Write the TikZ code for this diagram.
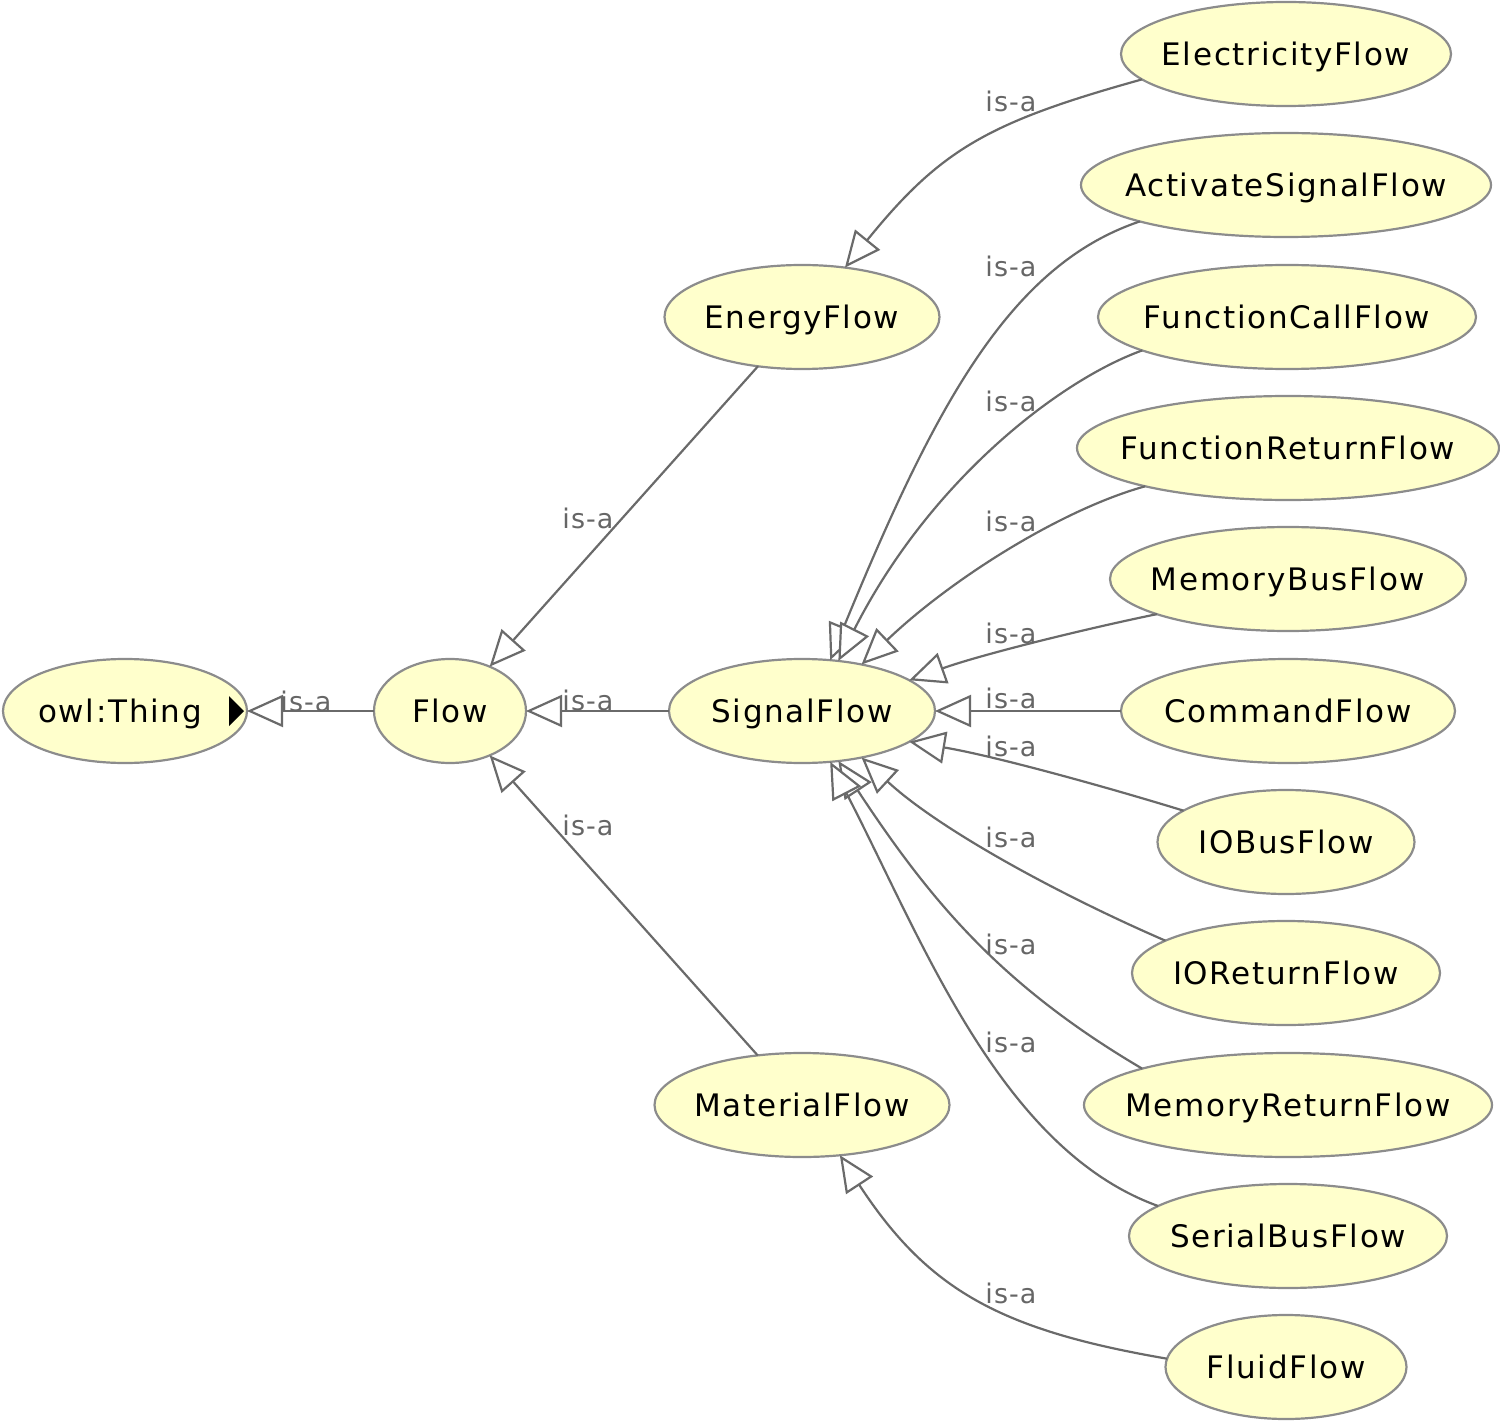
\documentclass[tikz,border=0pt]{standalone}
\usepackage{fontspec}
\setmainfont{DejaVu Sans}
\newfontfamily\nodefont[LetterSpace=5.5]{DejaVu Sans}
\newfontfamily\lblfont[LetterSpace=4]{DejaVu Sans}
\usetikzlibrary{shapes.geometric,arrows.meta}
\definecolor{fillcol}{HTML}{FFFFCC}
\definecolor{bordercol}{HTML}{8C8C8C}
\definecolor{edgecol}{HTML}{6A6A6A}
\definecolor{lblcol}{HTML}{666666}
\newcommand{\zw}[1]{\makebox[0pt]{#1}}
\tikzset{
  cls/.style={ellipse, draw=bordercol, fill=fillcol, line width=2.2pt, inner sep=0pt, outer sep=0pt,
    minimum height=104pt, text height=22.6pt, text depth=0pt, text=black,
    font=\nodefont\fontsize{31}{37}\selectfont},
  isa/.style={draw=edgecol, line width=2.2pt,
    -{Triangle[length=36pt,width=32pt,fill=white,line join=miter]}},
  lbl/.style={text=lblcol, inner sep=0pt, font=\lblfont\fontsize{27}{32}\selectfont}
}
\begin{document}
\begin{tikzpicture}[x=1pt,y=-1pt]
\useasboundingbox (0,0) rectangle (1500,1423);
% nodes
\node[cls, minimum width=244pt] (owl) at (125,711) {\zw{owl:Thing\hspace*{10pt}}};
\node[cls, minimum width=152pt] (flow) at (450,711) {\zw{Flow}};
\node[cls, minimum width=266pt] (signal) at (802,711) {\zw{SignalFlow}};
\node[cls, minimum width=275pt] (energy) at (802,317) {\zw{EnergyFlow}};
\node[cls, minimum width=295pt] (material) at (802,1105) {\zw{MaterialFlow}};
\node[cls, minimum width=330pt] (elec) at (1286,54) {\zw{ElectricityFlow}};
\node[cls, minimum width=410pt] (act) at (1286,185) {\zw{ActivateSignalFlow}};
\node[cls, minimum width=378pt] (fcall) at (1287,317) {\zw{FunctionCallFlow}};
\node[cls, minimum width=422pt] (fret) at (1288,448) {\zw{FunctionReturnFlow}};
\node[cls, minimum width=356pt] (mbus) at (1288,579) {\zw{MemoryBusFlow}};
\node[cls, minimum width=334pt] (cmd) at (1288,711) {\zw{CommandFlow}};
\node[cls, minimum width=257pt] (iobus) at (1286,842) {\zw{IOBusFlow}};
\node[cls, minimum width=308pt] (iores) at (1286,973) {\zw{IOReturnFlow}};
\node[cls, minimum width=408pt] (mret) at (1288,1105) {\zw{MemoryReturnFlow}};
\node[cls, minimum width=318pt] (sbus) at (1288,1236) {\zw{SerialBusFlow}};
\node[cls, minimum width=241pt] (fluid) at (1286,1367) {\zw{FluidFlow}};
% expand marker in owl:Thing
\fill[black] ([xshift=-18pt,yshift=15pt]owl.east) -- ++(0pt,-30pt) -- ([xshift=-3pt]owl.east) -- cycle;
% edges
\draw[isa] (flow) -- (owl);
\draw[isa] (signal) -- (flow);
\draw[isa] (energy) -- (flow);
\draw[isa] (material) -- (flow);
\draw[isa] (elec.190) .. controls (989,122) and (941,149) .. (energy.49);
\draw[isa] (act.194) .. controls (1010,265) and (935,405) .. (signal.61);
\draw[isa] (fcall.193) .. controls (1060,380) and (930,480) .. (signal.54);
\draw[isa] (fret.195) .. controls (1060,510) and (950,580) .. (signal.38);
\draw[isa] (mbus.195) .. controls (1080,630) and (980,655) .. (signal.16);
\draw[isa] (cmd) -- (signal);
\draw[isa] (iobus.163) .. controls (1100,785) and (990,755) .. (signal.344);
\draw[isa] (iores.165) .. controls (1060,895) and (940,830) .. (signal.322);
\draw[isa] (mret.166) .. controls (1000,985) and (930,900) .. (signal.306);
\draw[isa] (sbus.167) .. controls (1000,1149) and (922,939) .. (signal.299);
\draw[isa] (fluid.176) .. controls (1000,1330) and (928,1290) .. (material.307);
% labels
\node[lbl] (l0) at (306,701) {is-a};
\node[lbl] (l1) at (588,700) {is-a};
\node[lbl] (l2) at (588,518) {is-a};
\node[lbl] (l3) at (588,825) {is-a};
\node[lbl] (l4) at (1011,101) {is-a};
\node[lbl] (l5) at (1011,266) {is-a};
\node[lbl] (l6) at (1011,401) {is-a};
\node[lbl] (l7) at (1011,521) {is-a};
\node[lbl] (l8) at (1011,633) {is-a};
\node[lbl] (l9) at (1011,698) {is-a};
\node[lbl] (l10) at (1011,746) {is-a};
\node[lbl] (l11) at (1011,837) {is-a};
\node[lbl] (l12) at (1011,944) {is-a};
\node[lbl] (l13) at (1011,1042) {is-a};
\node[lbl] (l14) at (1011,1293) {is-a};
\end{tikzpicture}
\end{document}
